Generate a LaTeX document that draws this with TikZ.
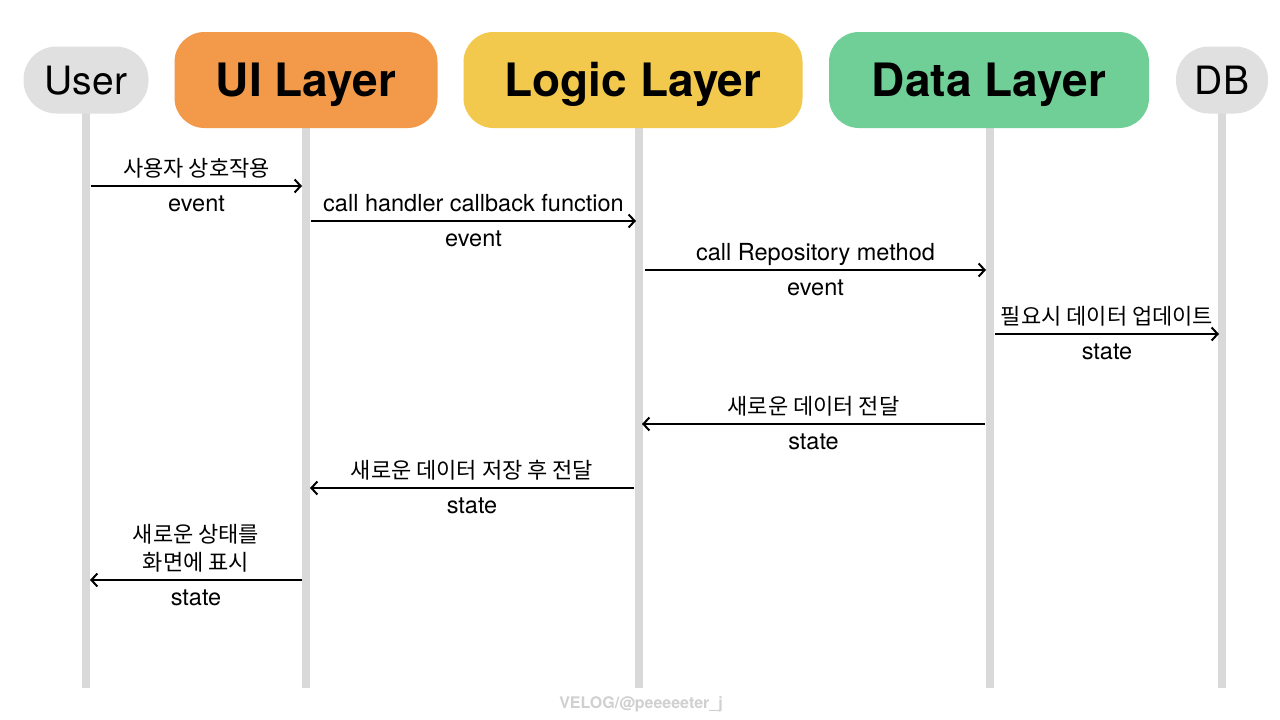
\documentclass[tikz,border=0pt]{standalone}
\usepackage{fontspec}
\setmainfont{TeX Gyre Heros}
\newfontfamily\krfont{Noto Sans CJK KR}
\newcommand\kor{\krfont\fontsize{22}{28}\selectfont}
\usetikzlibrary{arrows.meta}
\definecolor{pillgray}{HTML}{E0E0E0}
\definecolor{uiorange}{HTML}{F2994A}
\definecolor{logicyellow}{HTML}{F2C94C}
\definecolor{datagreen}{HTML}{6FCF97}
\definecolor{linegray}{HTML}{D9D9D9}
\definecolor{markgray}{HTML}{D0D0D0}

\begin{document}
\begin{tikzpicture}[x=1pt, y=-1pt,
  actornode/.style={fill=pillgray, rounded corners=33pt, minimum height=67pt, inner sep=0pt, text height=28pt, text depth=0pt, font=\fontsize{39}{44}\selectfont},
  layernode/.style={rounded corners=30pt, minimum height=96pt, inner sep=0pt, text height=33pt, text depth=0pt, font=\fontsize{46}{52}\selectfont\bfseries},
  lifeline/.style={draw=linegray, line width=8pt},
  msg/.style={line width=2pt, -{Straight Barb[length=6pt, width=13pt]}},
  toplabel/.style={midway, above=4pt, inner sep=0pt, text height=16pt, text depth=5pt, align=center, font=\fontsize{23.5}{28}\selectfont},
  botlabel/.style={midway, below=8pt, inner sep=0pt, text height=16pt, text depth=5pt, font=\fontsize{23.5}{26}\selectfont}]
\useasboundingbox[fill=white] (0,0) rectangle (1280,720);

% lifelines
\coordinate (userbot) at (86,688);
\coordinate (uibot) at (306,688);
\coordinate (logicbot) at (639,688);
\coordinate (databot) at (990,688);
\coordinate (dbbot) at (1222,688);
\draw[lifeline] (86,80) -- (userbot);
\draw[lifeline] (306,80) -- (uibot);
\draw[lifeline] (639,80) -- (logicbot);
\draw[lifeline] (990,80) -- (databot);
\draw[lifeline] (1222,80) -- (dbbot);

% participants
\node[actornode, minimum width=125pt] at (86,80) (user) {User};
\node[layernode, fill=uiorange, minimum width=263pt] at (306,80) (ui) {UI Layer};
\node[layernode, fill=logicyellow, minimum width=339pt] at (633,80) (logic) {Logic Layer};
\node[layernode, fill=datagreen, minimum width=320pt] at (989,80) (data) {Data Layer};
\node[actornode, minimum width=92pt] at (1222,80) (db) {DB};

% message ends
\coordinate (m1a) at (91,186);   \coordinate (m1b) at (302,186);
\coordinate (m2a) at (311,221);  \coordinate (m2b) at (636,221);
\coordinate (m3a) at (645,270);  \coordinate (m3b) at (986,270);
\coordinate (m4a) at (995,334);  \coordinate (m4b) at (1219,334);
\coordinate (m5a) at (985,424);  \coordinate (m5b) at (642,424);
\coordinate (m6a) at (634,488);  \coordinate (m6b) at (310,488);
\coordinate (m7a) at (302,580);  \coordinate (m7b) at (90,580);

\draw[msg] (m1a) -- (m1b) node[toplabel] {\kor 사용자 상호작용} node[botlabel] {event};
\draw[msg] (m2a) -- (m2b) node[toplabel] {call handler callback function} node[botlabel] {event};
\draw[msg] (m3a) -- (m3b) node[toplabel] {call Repository method} node[botlabel] {event};
\draw[msg] (m4a) -- (m4b) node[toplabel] {\kor 필요시 데이터 업데이트} node[botlabel] {state};
\draw[msg] (m5a) -- (m5b) node[toplabel] {\kor 새로운 데이터 전달} node[botlabel] {state};
\draw[msg] (m6a) -- (m6b) node[toplabel] {\kor 새로운 데이터 저장 후 전달} node[botlabel] {state};
\draw[msg] (m7a) -- (m7b) node[toplabel] {\kor 새로운 상태를\\\kor 화면에 표시} node[botlabel] {state};

\node[text=markgray, font=\fontsize{16}{18}\selectfont\bfseries] at (641,704) (mark) {VELOG/@peeeeeter\_j};
\end{tikzpicture}
\end{document}
